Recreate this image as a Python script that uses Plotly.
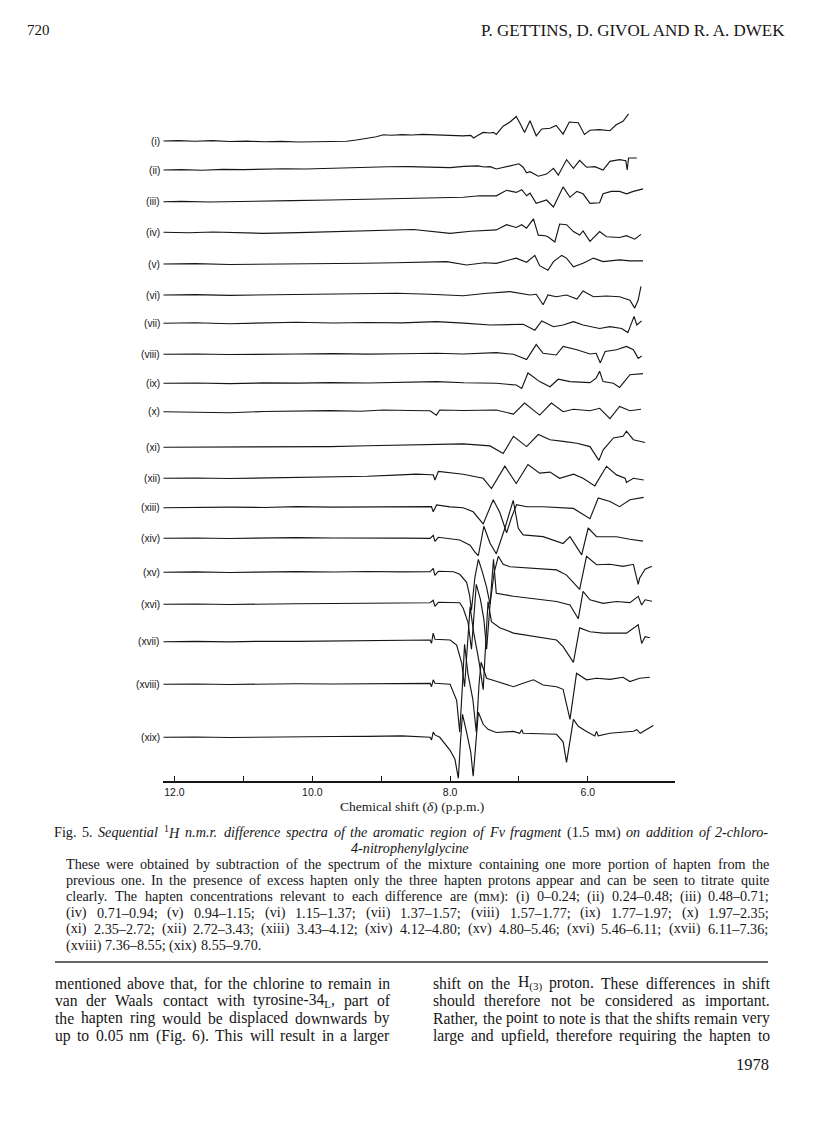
import re
import plotly.graph_objects as go

# ---------------- data ----------------
labels = ["(i)", "(ii)", "(iii)", "(iv)", "(v)", "(vi)", "(vii)", "(viii)", "(ix)", "(x)",
          "(xi)", "(xii)", "(xiii)", "(xiv)", "(xv)", "(xvi)", "(xvii)", "(xviii)", "(xix)"]

ppm_01 = [12.16, 11.95, 11.7, 11.45, 11.2, 10.95, 10.7, 10.45, 10.2, 9.95, 9.7, 9.5, 9.36, 9.2, 9.07, 8.97, 8.85, 8.7, 8.55, 8.4, 8.25, 8.1, 7.95, 7.81, 7.7, 7.66, 7.6, 7.52, 7.42, 7.37, 7.33, 7.23, 7.13, 7.04, 6.98, 6.92, 6.84, 6.75, 6.67, 6.55, 6.46, 6.36, 6.27, 6.14, 6.05, 5.97, 5.83, 5.68, 5.59, 5.49, 5.41]
int_01 = [0, 0.4, -0.2, 0.3, -0.5, -0.2, -0.7, -0.4, -1.0, -0.6, -0.8, -0.2, 1.0, 2.6, 4.2, 6.2, 5.8, 6.4, 6.0, 6.6, 6.2, 6.5, 5.8, 5.2, 5.6, 3.0, 5.5, 8.6, 8.0, 8.6, 6.6, 14.8, 19.0, 24.5, 17.0, 8.6, 20.3, 5.2, 12.0, 12.8, 15.5, 6.9, 19.0, 18.3, 6.6, 10.7, 11.4, 10.3, 16.2, 19.7, 27.2]

ppm_02 = [12.16, 11.9, 11.6, 11.3, 11.0, 10.7, 10.4, 10.1, 9.8, 9.5, 9.2, 8.9, 8.6, 8.3, 8.0, 7.8, 7.6, 7.5, 7.42, 7.33, 7.14, 7.0, 6.94, 6.89, 6.84, 6.72, 6.6, 6.5, 6.43, 6.31, 6.21, 6.12, 6.02, 5.9, 5.78, 5.68, 5.54, 5.45, 5.43, 5.41, 5.29]
int_02 = [0, 0.3, -0.2, 0.6, 0.4, 0.9, 1.2, 1.0, 1.6, 2.4, 2.8, 3.2, 3.4, 2.6, 2.4, 3.6, 4.1, 3.0, 3.4, 1.0, 4.1, 6.2, 2.8, -2.8, -1.7, -6.2, -4.1, 1.7, -5.2, 10.3, 1.7, 9.7, 2.8, 3.4, 0.0, 8.6, 10.3, 9.3, 0.0, 12.0, 12.0]

ppm_03 = [12.16, 11.9, 11.5, 11.1, 10.71, 10.3, 9.74, 9.3, 8.78, 8.3, 7.81, 7.57, 7.33, 7.18, 7.04, 6.96, 6.89, 6.84, 6.75, 6.6, 6.5, 6.36, 6.26, 6.16, 6.07, 5.97, 5.83, 5.78, 5.66, 5.54, 5.44, 5.34, 5.2]
int_03 = [0, 0.3, -0.3, 0.4, 0.7, 1.1, 1.7, 2.2, 3.1, 3.8, 4.5, 5.9, 5.9, 11.4, 9.3, 12.0, 5.9, 8.6, -1.7, 1.7, -5.2, 14.8, 4.5, 10.3, 7.9, -1.7, -1.0, 7.9, 10.3, 10.3, 7.9, 10.3, 12.8]

ppm_04 = [12.16, 11.8, 11.44, 11.1, 10.71, 10.2, 9.74, 9.2, 8.8, 8.53, 8.0, 7.7, 7.33, 7.18, 7.04, 6.96, 6.89, 6.79, 6.72, 6.62, 6.58, 6.48, 6.41, 6.31, 6.21, 6.12, 6.07, 5.97, 5.83, 5.73, 5.54, 5.44, 5.32, 5.23]
int_04 = [0, -0.4, 0.3, -0.6, -1.0, -0.3, 0.7, 1.2, 2.0, 2.8, -1.0, 1.0, 2.4, 7.6, 4.8, 7.6, 4.1, 13.4, -2.8, -3.4, -4.5, -9.7, 8.3, 7.6, 0.7, -2.8, 1.4, -9.0, 0.7, -4.5, -5.2, -3.4, -6.9, -2.1]

ppm_05 = [12.16, 11.7, 11.2, 10.71, 10.2, 9.7, 9.26, 8.8, 8.3, 8.05, 7.76, 7.5, 7.33, 7.04, 6.89, 6.77, 6.7, 6.58, 6.5, 6.38, 6.31, 6.21, 6.07, 5.92, 5.78, 5.54, 5.39, 5.2]
int_05 = [0, 0.4, -0.5, -0.3, 0.3, -0.2, 0.7, 1.2, 1.6, 2.4, -1.0, 1.2, 0.7, 5.9, 1.7, 8.6, -1.7, -6.2, 2.4, 8.6, 5.9, -2.8, 0.7, 5.9, 2.4, 4.1, 3.1, 3.1]

ppm_06 = [12.16, 11.7, 11.2, 10.71, 10.2, 9.7, 9.2, 8.78, 8.3, 7.81, 7.5, 7.13, 6.84, 6.75, 6.65, 6.58, 6.46, 6.31, 6.16, 6.07, 5.92, 5.73, 5.54, 5.39, 5.32, 5.27, 5.23]
int_06 = [0, 0.4, -0.3, 0.0, 0.5, 0.9, 1.3, 1.7, 0.8, -0.7, 1.5, 3.4, 0.0, 0.7, -9.7, 0.0, -1.7, 0.0, -4.1, 4.1, -1.7, -1.0, -1.7, -5.2, -13.1, -5.0, 8.6]

ppm_07 = [12.16, 11.7, 11.2, 10.7, 10.23, 9.7, 9.2, 8.7, 8.2, 7.8, 7.42, 6.94, 6.77, 6.67, 6.5, 6.36, 6.21, 6.07, 5.83, 5.68, 5.51, 5.42, 5.33, 5.29, 5.22]
int_07 = [0, 0.5, -0.4, 0.6, 1.0, 0.3, 0.8, 0.4, 1.7, 0.2, -1.7, -1.0, -6.9, 2.4, -3.4, -1.7, 1.7, -1.7, -5.2, -3.4, -5.2, -9.3, 6.9, -1.7, 2.4]

ppm_08 = [12.16, 11.7, 11.2, 10.7, 10.23, 9.7, 9.2, 8.7, 8.2, 7.81, 7.33, 7.08, 6.89, 6.75, 6.65, 6.46, 6.36, 6.16, 5.97, 5.88, 5.82, 5.75, 5.585, 5.44, 5.34, 5.27, 5.22]
int_08 = [0, 0.3, -0.2, 0.4, 0.3, 0.7, 0.2, 0.6, 1.0, 0.3, 1.7, 0.0, -5.2, 9.7, 1.0, -0.7, 7.9, 4.5, 0.3, 1.0, -8.6, 2.8, 4.5, 7.9, 4.5, -4.1, -1.7]

ppm_09 = [12.16, 11.7, 11.2, 10.7, 10.2, 9.74, 9.2, 8.7, 8.2, 7.8, 7.33, 7.04, 6.96, 6.87, 6.7, 6.55, 6.43, 6.26, 5.97, 5.88, 5.83, 5.78, 5.63, 5.54, 5.39, 5.2]
int_09 = [0, 0.3, -0.3, 0.4, 0.2, 0.7, 0.3, 0.9, 1.7, 0.5, 0.0, -1.7, -5.2, 10.3, 1.7, -3.4, 4.1, 1.7, 0.7, 5.2, 12.0, 1.7, 0.0, -4.1, 8.6, 9.7]

ppm_10 = [12.16, 11.7, 11.2, 10.7, 10.2, 9.74, 9.3, 8.97, 8.6, 8.29, 8.2, 8.15, 7.8, 7.33, 7.08, 6.92, 6.7, 6.53, 6.36, 6.21, 5.97, 5.83, 5.68, 5.54, 5.39, 5.23]
int_10 = [0, -0.3, -1.0, 0.2, 0.6, 1.0, 0.5, 1.7, 1.2, 1.0, -3.4, 1.7, 1.2, 1.7, -2.4, 8.6, -3.4, 8.6, 0.0, 2.4, 1.0, 3.4, -6.9, 5.2, 1.0, 2.4]

ppm_11 = [12.16, 11.7, 11.2, 10.7, 10.2, 9.74, 9.2, 8.7, 8.29, 7.81, 7.42, 7.23, 7.08, 6.89, 6.72, 6.55, 6.36, 6.16, 5.97, 5.84, 5.78, 5.63, 5.49, 5.44, 5.34, 5.17]
int_11 = [0, 0.2, -0.2, 0.3, 0.5, 0.7, 1.5, 2.2, 2.8, 3.4, 1.4, -6.2, 11.0, 0.7, 12.8, 7.6, 5.9, 4.1, 0.7, -13.1, -2.8, 9.3, 11.0, 16.2, 7.6, 4.8]

ppm_12 = [12.16, 11.7, 11.2, 10.7, 10.23, 9.7, 9.2, 8.8, 8.49, 8.27, 8.245, 8.22, 8.17, 7.81, 7.52, 7.4, 7.205, 7.04, 6.87, 6.7, 6.55, 6.41, 6.21, 6.07, 5.9, 5.73, 5.585, 5.46, 5.44, 5.34, 5.19]
int_12 = [0, 0.3, -0.2, 0.4, 0.7, 1.2, 2.0, 3.2, 4.1, 3.6, 3.4, -1.7, 6.9, 4.1, 0.0, -10.3, 12.1, -5.2, 13.8, 5.2, 6.2, 0.0, 4.1, 0.0, -7.6, 12.0, 3.4, 0.0, -4.1, 0.0, -1.7]

ppm_13 = [12.16, 11.7, 11.2, 10.7, 10.23, 9.7, 9.2, 8.8, 8.49, 8.27, 8.245, 8.196, 8.0, 7.81, 7.665, 7.52, 7.374, 7.277, 7.18, 7.11, 7.036, 6.89, 6.65, 6.455, 6.21, 5.97, 5.85, 5.68, 5.54, 5.39, 5.19]
int_13 = [0, 0.3, 0.6, 0.2, 1.0, 0.6, 0.9, 0.5, 1.0, 1.0, -4.1, 2.8, 0.8, 0.0, -4.1, -16.2, 7.9, -5.0, -25.0, -10.0, 3.0, 1.0, 1.0, 0.0, -0.7, -11.0, 9.7, 6.2, 1.0, 7.9, 10.3]

ppm_14 = [12.16, 11.7, 11.2, 10.7, 10.23, 9.7, 9.2, 8.7, 8.29, 8.245, 8.22, 8.17, 7.86, 7.71, 7.64, 7.59, 7.51, 7.42, 7.33, 7.205, 7.084, 7.01, 6.94, 6.65, 6.36, 6.26, 6.09, 5.996, 5.875, 5.585, 5.39, 5.2]
int_14 = [0, 0.3, -0.2, 0.4, 0.7, 0.3, 0.6, 0.2, 0.0, 3.0, -3.0, 1.0, -1.7, -6.9, -13.8, -17.2, 12.0, -5.0, -15.5, 10.0, 38.0, 10.0, 3.4, 1.7, -5.2, 1.7, -16.6, 10.3, 1.7, 1.5, -1.0, -2.8]

ppm_15 = [12.16, 11.7, 11.2, 10.7, 10.23, 9.7, 9.2, 8.7, 8.29, 8.245, 8.22, 8.17, 7.95, 7.86, 7.76, 7.72, 7.69, 7.64, 7.59, 7.53, 7.47, 7.42, 7.36, 7.30, 7.23, 7.13, 6.84, 6.455, 6.31, 6.12, 6.02, 5.875, 5.68, 5.49, 5.34, 5.27, 5.25, 5.17, 5.07]
int_15 = [0, 0.4, -0.2, 0.5, 0.7, 0.3, 0.8, 0.4, 0.5, 4.0, -3.0, 1.0, 0.5, -2.0, -10.0, -22.0, -38.0, -5.0, 13.0, 0.0, -15.0, -32.0, 0.0, 16.0, 8.0, 5.5, 4.0, 2.4, -2.8, -17.0, 16.0, 7.6, 8.0, 6.0, 8.0, -12.0, -6.0, 3.0, 6.0]

ppm_16 = [12.16, 11.7, 11.2, 10.7, 10.23, 9.7, 9.2, 8.7, 8.29, 8.245, 8.22, 8.17, 7.95, 7.86, 7.81, 7.74, 7.69, 7.645, 7.62, 7.56, 7.51, 7.47, 7.42, 7.37, 7.33, 7.08, 6.84, 6.65, 6.455, 6.26, 6.14, 6.07, 5.97, 5.78, 5.585, 5.39, 5.27, 5.22, 5.17, 5.07]
int_16 = [0, 0.3, -0.2, 0.4, 0.6, 0.8, 1.0, 1.4, 1.5, 4.0, -2.0, 2.0, 2.0, 1.5, -4.0, -18.0, -45.0, 0.0, 20.0, 5.0, -15.0, -45.0, 5.0, 45.0, 11.0, 8.0, 6.0, 4.5, 2.8, -0.7, -14.5, 13.0, 4.5, 1.0, 2.8, 1.7, 8.0, -0.7, 4.5, 3.0]

ppm_17 = [12.16, 11.7, 11.2, 10.7, 10.23, 9.7, 9.2, 8.7, 8.29, 8.27, 8.245, 8.22, 8.0, 7.905, 7.83, 7.79, 7.74, 7.71, 7.66, 7.58, 7.52, 7.48, 7.45, 7.40, 7.28, 7.08, 6.94, 6.65, 6.455, 6.36, 6.21, 6.12, 5.97, 5.78, 5.585, 5.44, 5.27, 5.22, 5.17, 5.10]
int_17 = [0, 0.3, -0.2, 0.5, 0.4, 0.9, 0.7, 1.2, 1.7, -1.7, 8.6, 2.4, 1.7, -3.4, -22.0, -45.0, 0.0, 35.0, 10.0, -20.0, -48.0, 0.0, 40.0, 20.0, 14.0, 8.6, 7.0, 4.0, 1.7, -5.0, -20.7, 13.8, 10.0, 8.6, 9.0, 8.6, 17.0, -1.7, 5.0, 4.0]

ppm_18 = [12.16, 11.7, 11.2, 10.7, 10.23, 9.7, 9.2, 8.7, 8.29, 8.27, 8.245, 8.22, 8.0, 7.905, 7.86, 7.82, 7.79, 7.74, 7.67, 7.62, 7.58, 7.55, 7.47, 7.33, 7.08, 6.94, 6.79, 6.65, 6.455, 6.36, 6.26, 6.165, 6.02, 5.875, 5.68, 5.49, 5.39, 5.25, 5.10]
int_18 = [0, 0.3, -0.2, 0.4, 0.6, 0.3, 0.7, 0.9, 1.0, -2.4, 4.5, 1.0, 0.0, -16.0, -48.0, 0.0, 40.0, 10.0, -15.0, -48.0, 0.0, 22.0, 6.0, 3.0, -2.4, 1.0, 4.5, -0.7, -2.4, -5.0, -35.0, 11.0, 4.5, 6.0, 5.0, 7.0, 2.8, 6.0, 7.0]

ppm_19 = [12.16, 11.7, 11.2, 10.7, 10.23, 9.7, 9.2, 8.7, 8.29, 8.27, 8.245, 8.22, 8.15, 8.0, 7.93, 7.88, 7.85, 7.82, 7.76, 7.70, 7.665, 7.62, 7.59, 7.52, 7.45, 7.33, 7.08, 6.99, 6.96, 6.94, 6.65, 6.455, 6.36, 6.31, 6.21, 6.14, 6.02, 5.9, 5.875, 5.85, 5.68, 5.49, 5.34, 5.29, 5.24, 5.05]
int_19 = [0, 0.3, -0.2, 0.3, 0.5, 0.8, 1.0, 1.4, 0.0, -2.8, 5.2, 2.4, 0.0, -13.0, -22.0, -41.0, -5.0, 23.0, 5.0, -15.0, -39.0, 0.0, 25.0, 13.0, 8.0, 4.8, 5.9, 4.0, 7.6, 4.0, 3.0, 3.0, -4.5, -25.0, 18.0, 11.0, 5.9, 1.4, 5.9, 1.4, 4.0, 5.0, 6.0, 7.6, 4.0, 11.7]

major_ticks = [12, 10, 8, 6]
major_labels = ["12.0", "10.0", "8.0", "6.0"]
minor_ticks = [11, 9, 7]

spectra_ppm = [ppm_01, ppm_02, ppm_03, ppm_04, ppm_05, ppm_06, ppm_07, ppm_08, ppm_09, ppm_10,
               ppm_11, ppm_12, ppm_13, ppm_14, ppm_15, ppm_16, ppm_17, ppm_18, ppm_19]
spectra_int = [int_01, int_02, int_03, int_04, int_05, int_06, int_07, int_08, int_09, int_10,
               int_11, int_12, int_13, int_14, int_15, int_16, int_17, int_18, int_19]

# ---------------- text content ----------------
header_left = "720"
header_right = "P. GETTINS, D. GIVOL AND R. A. DWEK"
axis_title = "Chemical shift (<i>δ</i>) (p.p.m.)"
caption_head = ["Fig.", "5.", "<i>Sequential</i>", "<sup>1</sup><i>H</i>", "<i>n.m.r.</i>", "<i>difference</i>",
                "<i>spectra</i>", "<i>of</i>", "<i>the</i>", "<i>aromatic</i>", "<i>region</i>", "<i>of</i>",
                "<i>Fv</i>", "<i>fragment</i>", "(1.5", "m<SC>M</SC>)", "<i>on</i>", "<i>addition</i>",
                "<i>of</i>", "<i>2-chloro-</i>"]
caption_head2 = "<i>4-nitrophenylglycine</i>"
caption_para = [
    "These were obtained by subtraction of the spectrum of the mixture containing one more portion of hapten from the",
    "previous one. In the presence of excess hapten only the three hapten protons appear and can be seen to titrate quite",
    "clearly. The hapten concentrations relevant to each difference are (m<SC>M</SC>): (i) 0–0.24; (ii) 0.24–0.48; (iii) 0.48–0.71;",
    "(iv) 0.71–0.94; (v) 0.94–1.15; (vi) 1.15–1.37; (vii) 1.37–1.57; (viii) 1.57–1.77; (ix) 1.77–1.97; (x) 1.97–2.35;",
    "(xi) 2.35–2.72; (xii) 2.72–3.43; (xiii) 3.43–4.12; (xiv) 4.12–4.80; (xv) 4.80–5.46; (xvi) 5.46–6.11; (xvii) 6.11–7.36;",
    "(xviii) 7.36–8.55; (xix) 8.55–9.70.",
]
body_left = [
    "mentioned above that, for the chlorine to remain in",
    "van der Waals contact with tyrosine-34<sub>L</sub>, part of",
    "the hapten ring would be displaced downwards by",
    "up to 0.05 nm (Fig. 6). This will result in a larger",
]
body_right = [
    "shift on the H<sub>(3)</sub> proton. These differences in shift",
    "should therefore not be considered as important.",
    "Rather, the point to note is that the shifts remain very",
    "large and upfield, therefore requiring the hapten to",
]
footer = "1978"

# ---------------- layout (page pixels) ----------------
W, H = 816, 1136
row_base = [141.0, 170.0, 201.7, 232.3, 264.0, 295.0, 323.3, 354.3, 383.3, 411.7,
            447.3, 478.3, 507.7, 538.3, 572.3, 604.3, 641.7, 684.3, 737.3]
PX12, PX_PER_PPM = 174.5, 68.9
X_RANGE = [12.17, 4.74]
AXIS_Y = 782
SERIF = "Liberation Serif, Times New Roman, serif"
SANS = "Liberation Sans, Arial, sans-serif"
INK = "#161616"


def ppm2px(p):
    return PX12 + (12 - p) * PX_PER_PPM


def px(x):
    return x / W


def py(y):
    return 1 - y / H


# Times-compatible advance widths (1/1000 em) used to justify text lines
def _tab(s):
    return {k[0]: int(k[1:]) for k in s.split()}


ROMAN = _tab("A722 B667 C667 D722 E611 F556 G722 H722 I333 J389 K722 L611 M889 N722 O722 P556 Q722 R667 S556 "
             "T611 U722 V722 W944 X722 Y722 Z611 a444 b500 c444 d500 e444 f333 g500 h500 i278 j278 k500 l278 "
             "m778 n500 o500 p500 q500 r333 s389 t278 u500 v500 w722 x500 y500 z444 ,250 .250 ;278 :278 (333 "
             ")333 -333 –500 /278 δ494")
ITAL = _tab("A611 B611 C667 D722 E611 F611 G722 H722 I333 J444 K667 L556 M833 N667 O722 P611 Q722 R611 S500 "
            "T556 U722 V611 W833 X611 Y556 Z556 a500 b500 c444 d500 e444 f278 g500 h500 i278 j278 k444 l278 "
            "m722 n500 o500 p500 q500 r389 s389 t278 u500 v444 w667 x444 y444 z389 ,250 .250 ;333 :333 (333 "
            ")333 -333 –500 /278 δ494")
for d in "0123456789":
    ROMAN[d] = 500
    ITAL[d] = 500
ROMAN[" "] = 250
ITAL[" "] = 250


def measure(s, F):
    w, italic, scale = 0.0, False, [1.0]
    for tok in re.split(r"(<[^>]+>)", s):
        if not tok:
            continue
        if tok.startswith("<"):
            t = tok.lower()
            if t == "<i>":
                italic = True
            elif t == "</i>":
                italic = False
            elif t in ("<sup>", "<sub>"):
                scale.append(0.7)
            elif t == "<sc>":
                scale.append(0.78)
            elif t in ("</sup>", "</sub>", "</sc>"):
                scale.pop()
            continue
        tab = ITAL if italic else ROMAN
        for ch in tok:
            w += tab.get(ch, 500) * scale[-1]
    return w * F / 1000.0


def render(s, F):
    return s.replace("<SC>", "<span style='font-size:%.1fpx'>" % (0.78 * F)).replace("</SC>", "</span>")


ann = []


def word(x, y, s, F, anchor="left", family=SERIF):
    ann.append(dict(x=px(x), y=py(y), xref="paper", yref="paper", text=s, showarrow=False,
                    xanchor=anchor, yanchor="middle", borderpad=0, borderwidth=0,
                    font=dict(family=family, size=F, color=INK)))


def justify(words, x0, x1, y, F, last=False):
    widths = [measure(w, F) for w in words]
    gap = measure(" ", F) if (last or len(words) < 2) else (x1 - x0 - sum(widths)) / (len(words) - 1)
    x = x0
    for w, wd in zip(words, widths):
        word(x, y, render(w, F), F)
        x += wd + gap


# ---------------- figure ----------------
fig = go.Figure()
for ppm, vals, base in zip(spectra_ppm, spectra_int, row_base):
    fig.add_trace(go.Scatter(x=ppm, y=[base - v for v in vals], mode="lines",
                             line=dict(color=INK, width=1.15), hoverinfo="skip", showlegend=False))

for lab, base in zip(labels, row_base):
    ann.append(dict(x=px(ppm2px(X_RANGE[0]) - 1.5), y=base, xref="paper", yref="y", text=lab,
                    showarrow=False, xanchor="right", yanchor="middle", borderpad=0,
                    font=dict(family=SANS, size=10.2, color=INK)))

# header
word(27, 30, header_left, 15)
word(785, 30, header_right, 17, anchor="right")

# axis title
word(412, 806, axis_title, 13.5, anchor="center")

# caption
CAP_L, CAP_R, PARA_L = 54, 769, 66
F_cap = 14.2
justify(caption_head, CAP_L, CAP_R, 832, F_cap)
word(410, 848, caption_head2, F_cap, anchor="center")
for k, line in enumerate(caption_para):
    justify(line.split(" "), PARA_L, CAP_R, 864 + 16.2 * k, F_cap, last=(k == len(caption_para) - 1))

# body text, two justified columns
COLS = [(55, 390, body_left), (433, 770, body_right)]
F_body = min((c[1] - c[0]) / measure(l, 1.0) for c in COLS for l in c[2]) * 0.99
for x0, x1, lines in COLS:
    for k, line in enumerate(lines):
        justify(line.split(" "), x0, x1, 983 + 17.5 * k, F_body)
word(769, 1064, footer, 16.5, anchor="right")

shapes = [dict(type="line", xref="paper", yref="paper", x0=px(55), x1=px(768),
               y0=py(962), y1=py(962), line=dict(color="#333", width=1.6))]

x0, x1 = ppm2px(X_RANGE[0]), ppm2px(X_RANGE[1])
fig.update_layout(
    width=W, height=H, margin=dict(l=0, r=0, t=0, b=0),
    paper_bgcolor="white", plot_bgcolor="white", showlegend=False,
    xaxis=dict(range=X_RANGE, domain=[px(x0), px(x1)], anchor="free", position=py(AXIS_Y),
               showline=True, linecolor=INK, linewidth=2, ticks="inside", ticklen=5,
               tickwidth=1.3, tickcolor=INK, tickvals=major_ticks, ticktext=major_labels,
               minor=dict(tickvals=minor_ticks, ticks="inside", ticklen=5, tickwidth=1.3,
                          tickcolor=INK, showgrid=False),
               tickfont=dict(family=SANS, size=10.5, color=INK), showgrid=False,
               zeroline=False, fixedrange=True),
    yaxis=dict(range=[H, 0], domain=[0, 1], visible=False, fixedrange=True),
    annotations=ann, shapes=shapes,
)
fig.write_html("out.html", config={"displayModeBar": False},
               post_script="document.body.style.margin='0px';document.body.style.overflow='hidden';")
